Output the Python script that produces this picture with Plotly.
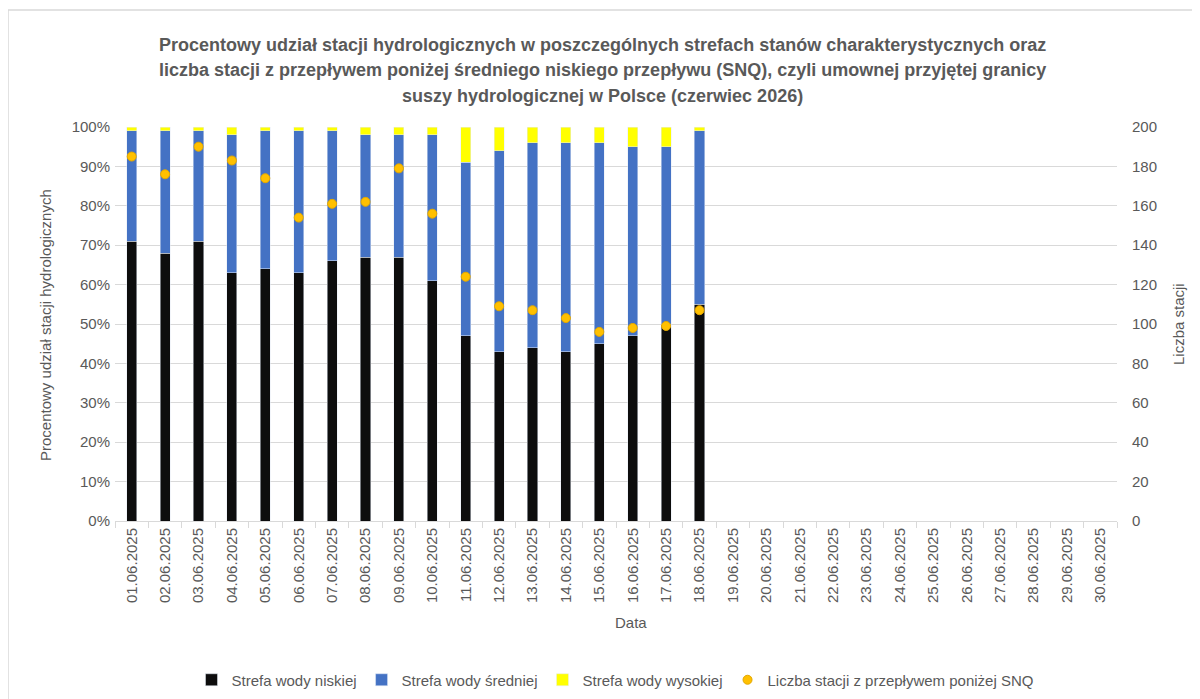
import plotly.graph_objects as go

# dni czerwca 2025
DATES = [f"{d:02d}.06.2025" for d in range(1, 31)]

# (%), dane tylko dla 01-18.06
LOW = [71, 68, 71, 63, 64, 63, 66, 67, 67, 61, 47, 43, 44, 43, 45, 47, 50, 55]
MID = [28, 31, 28, 35, 35, 36, 33, 31, 31, 37, 44, 51, 52, 53, 51, 48, 45, 44]
HIGH = [1, 1, 1, 2, 1, 1, 1, 2, 2, 2, 9, 6, 4, 4, 4, 5, 5, 1]
SNQ = [185, 176, 190, 183, 174, 154, 161, 162, 179, 156, 124, 109, 107, 103, 96, 98, 99, 107]

TITLE_LINES = [
    "Procentowy udział stacji hydrologicznych w poszczególnych strefach stanów charakterystycznych oraz",
    "liczba stacji z przepływem poniżej średniego niskiego przepływu (SNQ), czyli umownej przyjętej granicy",
    "suszy hydrologicznej w Polsce (czerwiec 2026)",
]

FONT = "Liberation Sans, Arial, sans-serif"
GREY = "#595959"

W, H = 1200, 699
OFF = 8  # body margin strony html
PL, PR, PT, PB = 115, 1117, 127, 521  # obszar wykresu w pikselach zrzutu
ML, MT = PL - OFF, PT - OFF
MR, MB = W - (PR - OFF), H - (PB - OFF)
pw = W - ML - MR
ph = H - MT - MB


def px(x):
    return (x - PL) / (PR - PL)


def py(y):
    return (PB - y) / (PB - PT)


fig = go.Figure()
n = len(LOW)
fig.add_bar(x=DATES[:n], y=LOW, name="Strefa wody niskiej", marker_color="#0d0d0d")
fig.add_bar(x=DATES[:n], y=MID, name="Strefa wody średniej", marker_color="#4472C4")
fig.add_bar(x=DATES[:n], y=HIGH, name="Strefa wody wysokiej", marker_color="#FFFF00")
fig.add_scatter(
    x=DATES[:n], y=SNQ, yaxis="y2", mode="markers",
    name="Liczba stacji z przepływem poniżej SNQ",
    marker=dict(color="#FFC000", size=9, line=dict(color="#E3A700", width=1)),
)

for i, line in enumerate(TITLE_LINES):
    fig.add_annotation(
        text=f"<b>{line}</b>", xref="paper", yref="paper",
        x=px(602), y=py(45 + i * 25.5),
        showarrow=False, xanchor="center", yanchor="middle",
        font=dict(family=FONT, size=18, color=GREY),
    )

# tytuły osi jako adnotacje
fig.add_annotation(
    text="Procentowy udział stacji hydrologicznych", textangle=-90,
    xref="paper", yref="paper", x=px(45), y=py(325),
    showarrow=False, xanchor="center", yanchor="middle",
    font=dict(size=15, color=GREY),
)
fig.add_annotation(
    text="Liczba stacji", textangle=-90,
    xref="paper", yref="paper", x=px(1178), y=py(324),
    showarrow=False, xanchor="center", yanchor="middle",
    font=dict(size=15, color=GREY),
)
fig.add_annotation(
    text="Data", xref="paper", yref="paper", x=px(631), y=py(622),
    showarrow=False, xanchor="center", yanchor="middle",
    font=dict(size=15, color=GREY),
)

# ramka obszaru wykresu
fig.add_shape(
    type="rect", xref="paper", yref="paper", layer="below",
    x0=px(8), x1=px(1215), y0=py(715), y1=py(10),
    line=dict(color="#d9d9d9", width=1.5),
)

fig.update_layout(
    width=W, height=H,
    barmode="stack", bargap=0.7,
    plot_bgcolor="white", paper_bgcolor="white",
    margin=dict(l=ML, r=MR, t=MT, b=MB, autoexpand=False),
    font=dict(family=FONT, size=15, color=GREY),
    xaxis=dict(
        categoryorder="array", categoryarray=DATES, range=[-0.5, 29.5],
        tickangle=-90, tickfont=dict(size=15, color=GREY),
        ticks="outside", tickson="boundaries", ticklen=6, tickcolor="#d9d9d9",
        showline=True, linecolor="#d9d9d9", showgrid=False, automargin=False,
    ),
    yaxis=dict(
        range=[0, 100], dtick=10, ticksuffix="%",
        gridcolor="#d9d9d9", zeroline=False, automargin=False,
        tickfont=dict(size=15, color=GREY), ticklabelstandoff=4,
    ),
    yaxis2=dict(
        overlaying="y", side="right", range=[0, 200], dtick=20,
        showgrid=False, zeroline=False, automargin=False,
        tickfont=dict(size=15, color=GREY), ticklabelstandoff=14,
    ),
    legend=dict(
        orientation="h", x=px(615), xanchor="center",
        y=py(680), yanchor="middle",
        font=dict(size=15, color=GREY), traceorder="normal",
    ),
)

fig.write_html("out.html")
